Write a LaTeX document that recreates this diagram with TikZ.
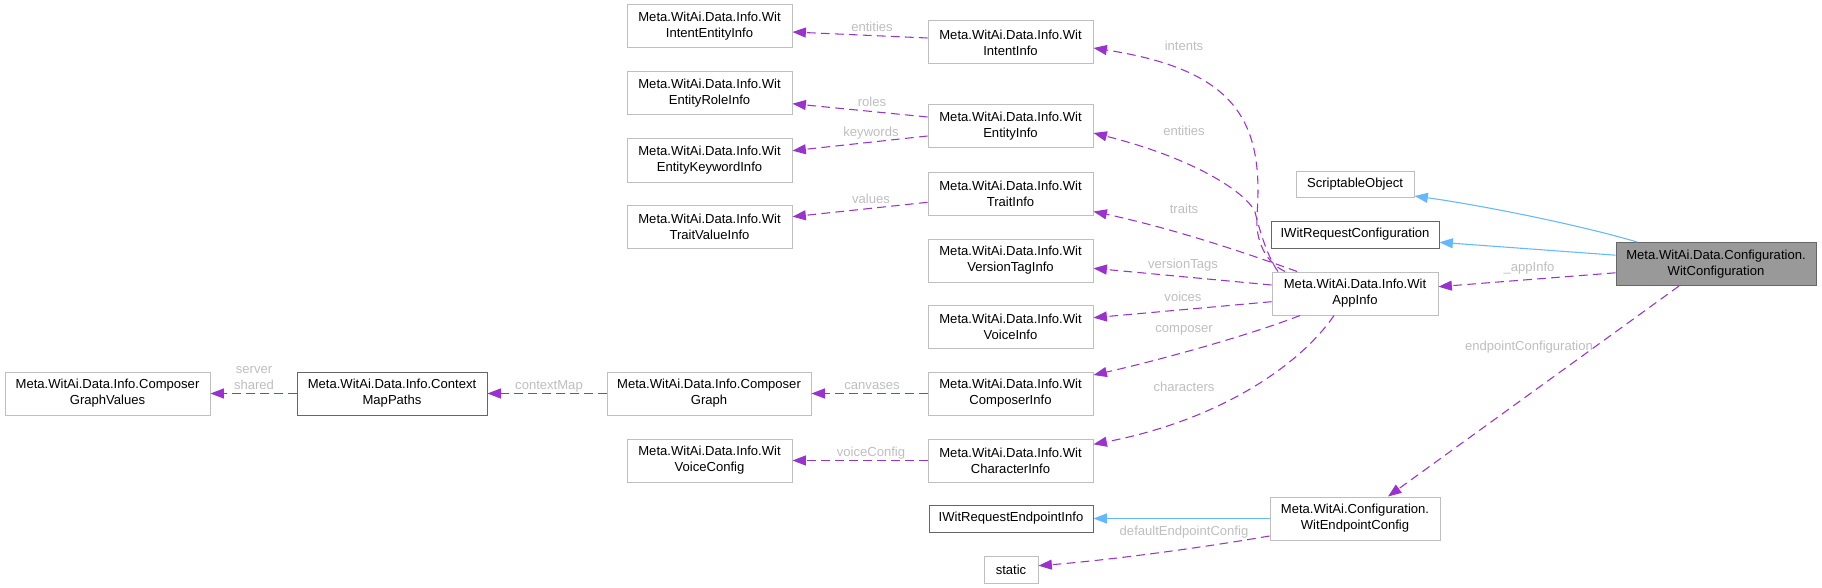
\documentclass[tikz,border=0pt]{standalone}
\usepackage{fontspec}
\setmainfont{Liberation Sans}
\usetikzlibrary{arrows.meta,calc}
\definecolor{edgepurple}{HTML}{9A32CD}
\definecolor{edgeblue}{HTML}{63B8FF}
\definecolor{lblgray}{HTML}{BEBEBE}
\definecolor{lightborder}{HTML}{BFBFBF}
\definecolor{darkborder}{HTML}{666666}
\definecolor{mainfill}{HTML}{999999}
\begin{document}
\begin{tikzpicture}[x=0.75pt,y=-0.75pt,
  cls/.style={draw=lightborder, line width=0.75pt, fill=white, align=center, inner sep=0pt, font=\fontsize{9.8pt}{12pt}\selectfont, text=black},
  std/.style={cls, minimum width=123.75pt, minimum height=32.25pt},
  darkbox/.style={draw=darkborder},
  dep/.style={draw=edgepurple, line width=0.8pt, dash pattern=on 6.5pt off 4pt, -{Triangle[length=10pt,width=7.5pt]}},
  inh/.style={draw=edgeblue, line width=0.8pt, -{Triangle[length=10pt,width=7.5pt]}},
  lbl/.style={text=lblgray, font=\fontsize{9.8pt}{12pt}\selectfont, inner sep=0pt, align=center}]
\useasboundingbox (0,0) rectangle (1822,588);

% nodes
\node[std] (IntentEntityInfo) at (709.5,26.5) {Meta.WitAi.Data.Info.Wit\\IntentEntityInfo};
\node[std] (IntentInfo) at (1010.5,42.5) {Meta.WitAi.Data.Info.Wit\\IntentInfo};
\node[std] (EntityRoleInfo) at (709.5,93.5) {Meta.WitAi.Data.Info.Wit\\EntityRoleInfo};
\node[std] (EntityInfo) at (1010.5,126.5) {Meta.WitAi.Data.Info.Wit\\EntityInfo};
\node[std] (EntityKeywordInfo) at (709.5,160.5) {Meta.WitAi.Data.Info.Wit\\EntityKeywordInfo};
\node[std] (TraitInfo) at (1010.5,193.5) {Meta.WitAi.Data.Info.Wit\\TraitInfo};
\node[std] (TraitValueInfo) at (709.5,226.5) {Meta.WitAi.Data.Info.Wit\\TraitValueInfo};
\node[std] (VersionTagInfo) at (1010.5,260.5) {Meta.WitAi.Data.Info.Wit\\VersionTagInfo};
\node[std] (VoiceInfo) at (1010.5,326.5) {Meta.WitAi.Data.Info.Wit\\VoiceInfo};
\node[std] (ComposerInfo) at (1010.5,393.5) {Meta.WitAi.Data.Info.Wit\\ComposerInfo};
\node[std] (CharacterInfo) at (1010.5,460.5) {Meta.WitAi.Data.Info.Wit\\CharacterInfo};
\node[cls, darkbox, minimum width=123pt, minimum height=20.25pt] (IWitRequestEndpointInfo) at (1011,518.5) {IWitRequestEndpointInfo};
\node[cls, minimum width=40.5pt, minimum height=20.25pt] (static) at (1011,569.5) {static};
\node[cls, minimum width=153pt, minimum height=32.25pt] (ComposerGraph) at (709,393.5) {Meta.WitAi.Data.Info.Composer\\Graph};
\node[std] (VoiceConfig) at (709.5,460.5) {Meta.WitAi.Data.Info.Wit\\VoiceConfig};
\node[cls, minimum width=153.75pt, minimum height=32.25pt] (ComposerGraphValues) at (107.5,393.5) {Meta.WitAi.Data.Info.Composer\\GraphValues};
\node[cls, darkbox, minimum width=142.5pt, minimum height=32.25pt] (ContextMapPaths) at (392,393.5) {Meta.WitAi.Data.Info.Context\\MapPaths};
\node[cls, minimum width=88.5pt, minimum height=19.5pt] (ScriptableObject) at (1355,184) {ScriptableObject};
\node[cls, darkbox, minimum width=126pt, minimum height=20.25pt] (IWitRequestConfiguration) at (1355,234.5) {IWitRequestConfiguration};
\node[cls, minimum width=124.5pt, minimum height=32.25pt] (AppInfo) at (1355,293.5) {Meta.WitAi.Data.Info.Wit\\AppInfo};
\node[cls, darkbox, fill=mainfill, minimum width=150pt, minimum height=32.25pt] (WitConfiguration) at (1716,264) {Meta.WitAi.Data.Configuration.\\WitConfiguration};
\node[cls, minimum width=127.5pt, minimum height=32.25pt] (WitEndpointConfig) at (1355,518.5) {Meta.WitAi.Configuration.\\WitEndpointConfig};

% left-side dependencies
\draw[dep] ($(IntentInfo.west)+(0,-4.5)$) -- ($(IntentEntityInfo.east)+(0,5.5)$);
\draw[dep] ($(EntityInfo.west)+(0,-9.5)$) -- ($(EntityRoleInfo.east)+(0,10.2)$);
\draw[dep] ($(EntityInfo.west)+(0,9.5)$) -- ($(EntityKeywordInfo.east)+(0,-9.8)$);
\draw[dep] ($(TraitInfo.west)+(0,8.8)$) -- ($(TraitValueInfo.east)+(0,-9.8)$);
\draw[dep] (ComposerInfo.west) -- (ComposerGraph.east);
\draw[dep] (CharacterInfo.west) -- (VoiceConfig.east);
\draw[dep] (ComposerGraph.west) -- (ContextMapPaths.east);
\draw[dep] (ContextMapPaths.west) -- (ComposerGraphValues.east);

% AppInfo dependencies
\draw[dep] ($(AppInfo.north)+(-70,0)$) .. controls (1265,262) and (1255,240) .. (1257,215) .. controls (1264,120) and (1235,70) .. ($(IntentInfo.east)+(0,5.5)$);
\draw[dep] ($(AppInfo.north)+(-77,0)$) .. controls (1268,258) and (1260,232) .. (1255,212) .. controls (1248,195) and (1200,160) .. ($(EntityInfo.east)+(0,6.5)$);
\draw[dep] ($(AppInfo.north)+(-58,0)$) .. controls (1260,258) and (1180,230) .. ($(TraitInfo.east)+(0,18)$);
\draw[dep] ($(AppInfo.west)+(0,-8.5)$) -- ($(VersionTagInfo.east)+(0,7.8)$);
\draw[dep] ($(AppInfo.west)+(0,8.2)$) -- ($(VoiceInfo.east)+(0,-8.8)$);
\draw[dep] ($(AppInfo.south)+(-55,0)$) .. controls (1250,335) and (1160,360) .. ($(ComposerInfo.east)+(0,-18.5)$);
\draw[dep] ($(AppInfo.south)+(-21,0)$) .. controls (1300,365) and (1220,420) .. ($(CharacterInfo.east)+(0,-16.2)$);

% WitConfiguration
\draw[dep] ($(WitConfiguration.west)+(0,8.8)$) -- ($(AppInfo.east)+(0,-6.8)$);
\draw[dep] ($(WitConfiguration.south)+(-37,0)$) -- ($(WitEndpointConfig.north)+(33,0)$);
\draw[dep] ($(WitEndpointConfig.west)+(0,17.5)$) .. controls (1200,548) and (1110,560) .. ($(static.east)+(0,-3.8)$);
\draw[inh] ($(WitConfiguration.north)+(-79,0)$) .. controls (1580,225) and (1480,205) .. ($(ScriptableObject.east)+(0,12)$);
\draw[inh] ($(WitConfiguration.west)+(0,-8.8)$) -- ($(IWitRequestConfiguration.east)+(0,7.8)$);
\draw[inh] (WitEndpointConfig.west) -- (IWitRequestEndpointInfo.east);

% labels
\node[lbl] (l1) at (872,27) {entities};
\node[lbl] (l2) at (872,101.7) {roles};
\node[lbl] (l3) at (871,132.7) {keywords};
\node[lbl] (l4) at (871,199) {values};
\node[lbl] (l5) at (872,386) {canvases};
\node[lbl] (l6) at (871,452.7) {voiceConfig};
\node[lbl] (l7) at (549,386) {contextMap};
\node[lbl] (l8) at (254,378) {server\\shared};
\node[lbl] (l9) at (1184,45.7) {intents};
\node[lbl] (l10) at (1184,130.7) {entities};
\node[lbl] (l11) at (1184,209.3) {traits};
\node[lbl] (l12) at (1183,265) {versionTags};
\node[lbl] (l13) at (1183,296.7) {voices};
\node[lbl] (l14) at (1184,330.7) {composer};
\node[lbl] (l15) at (1184,386.7) {characters};
\node[lbl] (l16) at (1184,532.3) {defaultEndpointConfig};
\node[lbl] (l17) at (1529,268.3) {\_appInfo};
\node[lbl] (l18) at (1529,346.7) {endpointConfiguration};
\end{tikzpicture}
\end{document}
